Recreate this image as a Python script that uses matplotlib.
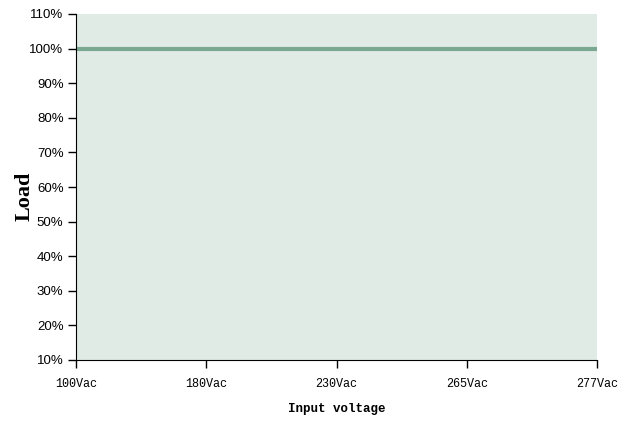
import matplotlib
matplotlib.use("Agg")
import matplotlib.pyplot as plt

categories = ["100Vac", "180Vac", "230Vac", "265Vac", "277Vac"]
load = [100, 100, 100, 100, 100]
yticks = [10, 20, 30, 40, 50, 60, 70, 80, 90, 100, 110]

fig = plt.figure(figsize=(6.35, 4.21), dpi=100)
ax = fig.add_axes([76/635, 1-360/421, (597-76)/635, (360-14)/421])
ax.set_facecolor("#e0ebe6")
x = list(range(len(categories)))
ax.plot(x, load, color="#7aa890", linewidth=3, solid_capstyle="butt")
ax.set_xlim(0, len(categories)-1)
ax.set_ylim(10, 110)
ax.set_xticks(x)
ax.set_xticklabels(categories, family="Liberation Mono", fontsize=8.5)
ax.set_yticks(yticks)
ax.set_yticklabels([f"{v}%" for v in yticks], family="Liberation Sans", fontsize=9.5, color="#222222")
for s in ["top", "right"]:
    ax.spines[s].set_visible(False)
ax.spines["left"].set_color("black")
ax.spines["bottom"].set_color("black")
ax.tick_params(axis="both", length=6, width=1, colors="black", direction="out")
ax.tick_params(axis="x", pad=7)
ax.tick_params(axis="y", pad=3)
ax.set_xlabel("Input voltage", family="Liberation Mono", fontsize=9, fontweight="bold", labelpad=9)
fig.text(25/635, 1-196/421, "Load", family="Liberation Serif", fontsize=16, fontweight="bold",
         rotation=90, ha="center", va="center")
fig.savefig("out.png", dpi=100)
